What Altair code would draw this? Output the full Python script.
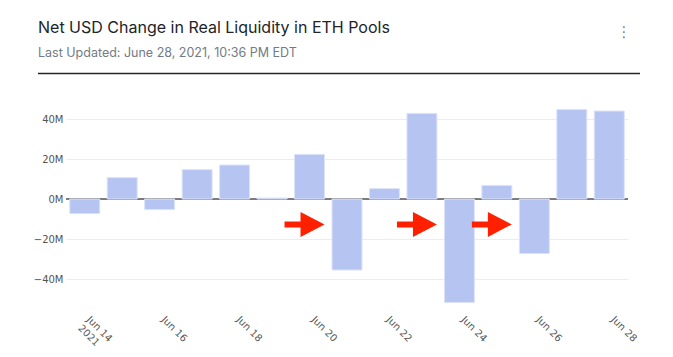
import altair as alt
import pandas as pd

# ---- data ----
days = ["Jun 14", "Jun 15", "Jun 16", "Jun 17", "Jun 18", "Jun 19", "Jun 20",
        "Jun 21", "Jun 22", "Jun 23", "Jun 24", "Jun 25", "Jun 26", "Jun 27", "Jun 28"]
net_change_musd = [-7.3, 10.7, -5.3, 14.7, 17.0, 0.5, 22.3,
                   -35.5, 5.2, 42.8, -51.8, 6.8, -27.3, 44.8, 44.0]
tick_days = ["Jun 14", "Jun 16", "Jun 18", "Jun 20", "Jun 22", "Jun 24", "Jun 26", "Jun 28"]
y_ticks = [-40e6, -20e6, 0, 20e6, 40e6]
arrow_days = ["Jun 20", "Jun 23", "Jun 25"]
arrow_level_musd = [-12.7, -12.7, -12.7]

title_text = "Net USD Change in Real Liquidity in ETH Pools"
subtitle_text = "Last Updated: June 28, 2021, 10:36 PM EDT"

bars_df = pd.DataFrame({"day": days, "value": [v * 1e6 for v in net_change_musd]})
arrows_df = pd.DataFrame({"day": arrow_days, "value": [v * 1e6 for v in arrow_level_musd]})
text_df = pd.DataFrame({"title": [title_text], "subtitle": [subtitle_text], "menu": ["⋮"]})

AXIS_FONT = "DejaVu Sans"
TITLE_FONT = "Inter"

x_scale = alt.Scale(domain=days, paddingInner=0.2, paddingOuter=0.1)
y_scale = alt.Scale(domain=[-55e6, 50e6], nice=False)

first_label = tick_days[0]
bars = alt.Chart(bars_df).mark_bar(
    color="#b6c4f2", stroke="#dde3f8", strokeWidth=1
).encode(
    x=alt.X("day:N", scale=x_scale, sort=days, title=None,
            axis=alt.Axis(values=tick_days, labelAngle=45, labelAlign="left",
                          labelBaseline="top", labelPadding=5, labelOffset=7,
                          ticks=False, domain=False, grid=False, labelFont=AXIS_FONT,
                          labelFontSize=10, labelColor="#555",
                          labelExpr=f"datum.value == '{first_label}' ? ['{first_label}', '2021'] : datum.value")),
    y=alt.Y("value:Q", scale=y_scale, title=None,
            axis=alt.Axis(values=y_ticks, format="~s", ticks=False, domain=False,
                          grid=True, gridColor="#ececec", gridWidth=1,
                          labelFont=AXIS_FONT, labelFontSize=10, labelColor="#555",
                          labelPadding=3)),
)

zero = alt.Chart(pd.DataFrame({"value": [0]})).mark_rule(
    color="#555", strokeWidth=1.3
).encode(y=alt.Y("value:Q", scale=y_scale))

arrow_path = "M-1,-0.15L-0.2,-0.15L-0.2,-0.625L1,0L-0.2,0.625L-0.2,0.15L-1,0.15Z"
arrows = alt.Chart(arrows_df).mark_point(
    shape=arrow_path, size=1600, filled=True, color="#ff2000", opacity=1,
    strokeWidth=0, xOffset=-5
).encode(
    x=alt.X("day:N", scale=x_scale, sort=days),
    y=alt.Y("value:Q", scale=y_scale),
)

title = alt.Chart(text_df).mark_text(
    align="left", baseline="alphabetic", font=TITLE_FONT, fontSize=16,
    fontWeight="normal", color="#212529"
).encode(x=alt.value(-28), y=alt.value(-65.7), text="title:N")

subtitle = alt.Chart(text_df).mark_text(
    align="left", baseline="alphabetic", font=TITLE_FONT, fontSize=12.5,
    color="#737b84"
).encode(x=alt.value(-28), y=alt.value(-42.3), text="subtitle:N")

menu = alt.Chart(text_df).mark_text(
    align="center", baseline="middle", font="DejaVu Sans", fontSize=15,
    color="#7a8796"
).encode(x=alt.value(558), y=alt.value(-67.3), text="menu:N")

header_line = alt.Chart(text_df).mark_rule(color="#212529", strokeWidth=1.3).encode(
    x=alt.value(-28), x2=alt.value(574), y=alt.value(-25.5)
)

chart = alt.layer(zero, bars, arrows, title, subtitle, menu, header_line).properties(
    width=562, height=210,
    autosize=alt.AutoSizeParams(type="none"),
    padding={"left": 66, "top": 99, "right": 45, "bottom": 48},
    background="white",
).configure_view(stroke=None)

chart.save("out.html", embed_options={"renderer": "svg", "actions": False})
